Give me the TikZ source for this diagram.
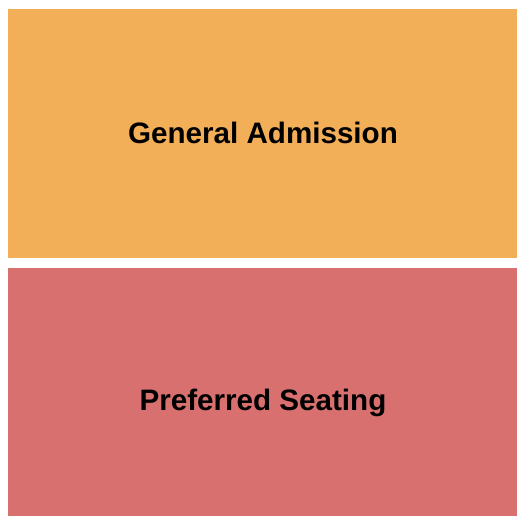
\documentclass[tikz,border=0pt]{standalone}
\usepackage{fontspec}
\setmainfont{Liberation Sans}
\definecolor{gaorange}{HTML}{F3AF58}
\definecolor{psred}{HTML}{D87070}
\begin{document}
\begin{tikzpicture}[x=1bp,y=1bp,
  section/.style={draw=none},
  label/.style={font=\fontsize{29.6bp}{32bp}\selectfont\bfseries, text=black, inner sep=0pt, anchor=base}]
\useasboundingbox (0,0) rectangle (525,525);
\fill[white] (0,0) rectangle (525,525);
\fill[gaorange] (8,267) rectangle (517,516);
\fill[psred] (8,9) rectangle (517,257);
\node[label] (ga) at (263,381) {General Admission};
\node[label] (ps) at (263,114) {Preferred Seating};
\end{tikzpicture}
\end{document}
